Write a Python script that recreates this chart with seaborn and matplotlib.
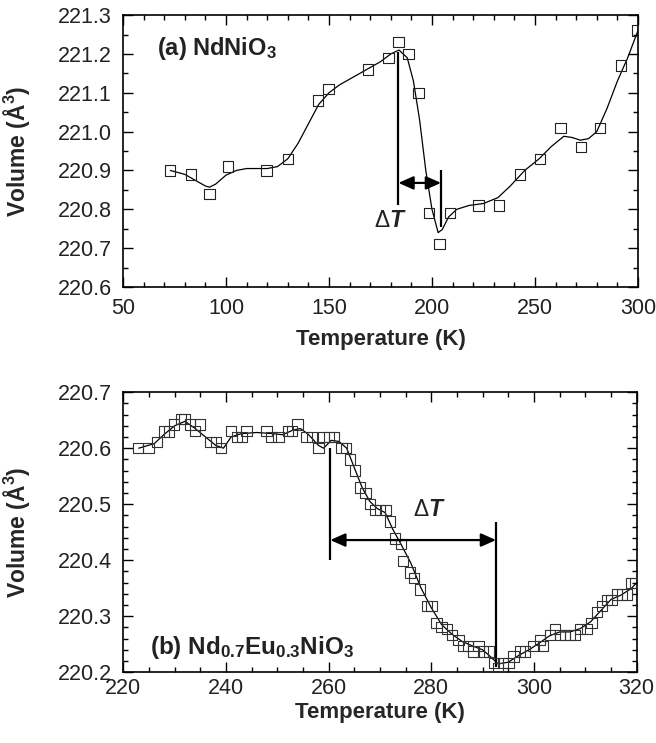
import matplotlib
matplotlib.use('Agg')

import matplotlib.pyplot as plt
import pandas as pd
import seaborn as sns
from matplotlib.ticker import MultipleLocator, FormatStrFormatter

# (a) NdNiO3 : measured points
temp_a = [72.8, 83.0, 92.0, 101.0, 119.6, 130.0, 144.6, 149.8, 168.9, 178.9, 183.7, 188.6,
          193.5, 198.4, 203.6, 208.6, 222.6, 232.7, 242.7, 252.5, 262.4, 272.5, 281.6, 291.6, 299.7]
vol_a = [220.90, 220.89, 220.84, 220.91, 220.90, 220.93, 221.08, 221.11, 221.16, 221.19, 221.23, 221.20,
         221.10, 220.79, 220.71, 220.79, 220.81, 220.81, 220.89, 220.93, 221.01, 220.96, 221.01, 221.17, 221.26]

# (a) smooth guide line
fit_temp_a = [73, 80, 85, 90, 92, 95, 100, 105, 110, 120, 125, 130, 135, 140, 145, 150, 155, 160,
              165, 170, 175, 180, 184, 188, 191, 194, 197, 200, 203, 205, 208, 212, 218, 225, 232,
              238, 245, 252, 258, 264, 268, 272, 276, 280, 285, 290, 295, 300]
fit_vol_a = [220.900, 220.890, 220.875, 220.860, 220.857, 220.865, 220.888, 220.900, 220.905, 220.905,
             220.910, 220.930, 220.970, 221.020, 221.070, 221.100, 221.120, 221.135, 221.150, 221.165,
             221.180, 221.200, 221.210, 221.190, 221.130, 221.030, 220.900, 220.800, 220.740, 220.748,
             220.780, 220.800, 220.810, 220.815, 220.830, 220.860, 220.900, 220.930, 220.962, 220.988,
             220.985, 220.978, 220.982, 221.000, 221.060, 221.130, 221.190, 221.260]

# (b) Nd0.7Eu0.3NiO3 : measured points
temp_b = [222.8, 224.9, 226.5, 227.9, 228.9, 229.9, 231.2, 231.9, 233.0, 234.0, 234.9, 237.0, 238.0,
          239.0, 241.0, 242.1, 243.1, 244.0, 247.9, 248.8, 250.2, 252.1, 252.8, 253.9, 255.7, 256.8,
          258.0, 259.0, 260.0, 261.0, 262.5, 263.4, 264.2, 265.1, 266.1, 267.2, 268.0, 269.0, 270.0,
          271.1, 271.9, 272.9, 274.1, 274.5, 275.8, 276.6, 277.8, 279.2, 280.0, 281.0, 282.0, 283.0,
          284.0, 285.3, 286.2, 287.2, 288.2, 289.2, 290.1, 291.2, 292.2, 293.0, 294.0, 295.0, 296.0,
          297.3, 298.3, 299.9, 301.2, 301.8, 303.1, 304.1, 305.0, 306.0, 307.0, 308.0, 309.0, 310.3,
          311.2, 312.2, 313.2, 314.2, 315.1, 316.1, 317.1, 318.1, 319.0, 319.7]
vol_b = [220.600, 220.600, 220.611, 220.630, 220.630, 220.642, 220.652, 220.652, 220.642, 220.631,
         220.642, 220.611, 220.611, 220.600, 220.631, 220.620, 220.620, 220.631, 220.631, 220.620,
         220.620, 220.631, 220.631, 220.642, 220.620, 220.620, 220.600, 220.620, 220.620, 220.620,
         220.600, 220.600, 220.580, 220.560, 220.530, 220.520, 220.500, 220.490, 220.490, 220.490,
         220.469, 220.439, 220.429, 220.398, 220.378, 220.368, 220.348, 220.318, 220.318, 220.288,
         220.281, 220.277, 220.267, 220.258, 220.247, 220.247, 220.237, 220.247, 220.237, 220.237,
         220.217, 220.207, 220.217, 220.217, 220.228, 220.237, 220.237, 220.247, 220.258, 220.247,
         220.267, 220.277, 220.267, 220.267, 220.267, 220.267, 220.277, 220.277, 220.288, 220.308,
         220.318, 220.329, 220.329, 220.339, 220.339, 220.339, 220.359, 220.359]

# (b) smooth guide line
fit_temp_b = [223, 226, 228, 230, 232, 234, 236, 238, 239.5, 241, 243, 246, 249, 251, 253, 254.5,
              256, 258, 259, 260.5, 262, 263.5, 265, 266.5, 268, 269.5, 271, 272.5, 274, 276, 278,
              280, 282, 284, 286, 288, 290, 291.5, 293, 295, 297, 299, 301, 303, 305, 307, 309,
              311, 313, 315, 317, 319, 320]
fit_vol_b = [220.600, 220.608, 220.625, 220.640, 220.648, 220.635, 220.620, 220.605, 220.600, 220.620,
             220.626, 220.628, 220.626, 220.624, 220.632, 220.635, 220.625, 220.605, 220.600, 220.614,
             220.612, 220.600, 220.565, 220.530, 220.505, 220.492, 220.485, 220.455, 220.430, 220.395,
             220.350, 220.315, 220.285, 220.268, 220.255, 220.247, 220.240, 220.228, 220.215, 220.218,
             220.230, 220.240, 220.252, 220.265, 220.272, 220.272, 220.278, 220.290, 220.310, 220.330,
             220.338, 220.350, 220.360]

# delta T markers
dt_a = (183.7, 204.4)
dt_b = (260.3, 292.6)

sns.set_style('ticks')
plt.rcParams['font.family'] = ['Liberation Sans', 'DejaVu Sans']
plt.rcParams.update({
    'mathtext.fontset': 'custom',
    'mathtext.rm': 'Liberation Sans',
    'mathtext.it': 'Liberation Sans:italic',
    'mathtext.bf': 'Liberation Sans:bold',
    'mathtext.bfit': 'Liberation Sans:italic:bold',
    'axes.edgecolor': 'black',
    'axes.linewidth': 1.2,
    'text.color': '#222222',
})


def style_axes(ax, xmaj, xmin, ymaj, ymin, xpad):
    ax.xaxis.set_major_locator(MultipleLocator(xmaj))
    ax.xaxis.set_minor_locator(MultipleLocator(xmin))
    ax.yaxis.set_major_locator(MultipleLocator(ymaj))
    ax.yaxis.set_minor_locator(MultipleLocator(ymin))
    ax.yaxis.set_major_formatter(FormatStrFormatter('%.1f'))
    ax.tick_params(which='both', direction='in', top=True, right=True,
                   colors='black', labelcolor='#222222', width=1.0)
    ax.tick_params(which='major', length=7, labelsize=15.5)
    ax.tick_params(which='minor', length=3.5)
    ax.tick_params(axis='x', which='major', pad=xpad)
    ax.tick_params(axis='y', which='major', pad=8)
    for s in ax.spines.values():
        s.set_visible(True)


def arrow(ax, x0, x1, y):
    ax.annotate('', xy=(x1, y), xytext=(x0, y),
                arrowprops=dict(arrowstyle='<|-|>,head_length=0.45,head_width=0.2',
                                mutation_scale=20, lw=1.6, color='black',
                                shrinkA=0, shrinkB=0))


fig = plt.figure(figsize=(6.56, 7.43), dpi=100)
ax_a = fig.add_axes([0.1875, 0.6137, 0.785, 0.366])
ax_b = fig.add_axes([0.188, 0.0952, 0.7826, 0.377])

# ---- panel (a)
sns.lineplot(x=fit_temp_a, y=fit_vol_a, ax=ax_a, color='black', lw=0.9, sort=False, estimator=None)
sns.scatterplot(x=temp_a, y=vol_a, ax=ax_a, marker='s', s=55, facecolors='none',
                edgecolors='#222222', linewidths=0.8, zorder=3)
ax_a.set_xlim(50, 300)
ax_a.set_ylim(220.6, 221.3)
style_axes(ax_a, 50, 10, 0.1, 0.05, 8)
ax_a.vlines(dt_a[0], 220.81, 221.205, color='black', lw=1.6)
ax_a.vlines(dt_a[1], 220.755, 220.90, color='black', lw=1.6)
arrow(ax_a, dt_a[0], dt_a[1], 220.868)
ax_a.text(180, 220.77, 'Δ$\\mathbfit{T}$', fontsize=16.5, ha='center', va='center')
ax_a.text(66.5, 221.215, '(a) NdNiO$_\\mathbf{3}$', fontsize=17, fontweight='bold',
          ha='left', va='center')
ax_a.set_xlabel('Temperature (K)', fontsize=16, fontweight='bold')
ax_a.set_ylabel('Volume (Å$^\\mathbf{3}$)', fontsize=16.5, fontweight='bold')
ax_a.xaxis.set_label_coords(0.5, -0.155)
ax_a.yaxis.set_label_coords(-0.177, 0.5)

# ---- panel (b)
sns.lineplot(x=fit_temp_b, y=fit_vol_b, ax=ax_b, color='black', lw=0.9, sort=False, estimator=None)
sns.scatterplot(x=temp_b, y=vol_b, ax=ax_b, marker='s', s=55, facecolors='none',
                edgecolors='#333333', linewidths=0.8, zorder=3)
ax_b.set_xlim(220, 320)
ax_b.set_ylim(220.2, 220.7)
style_axes(ax_b, 20, 5, 0.1, 0.02, 4)
ax_b.vlines(dt_b[0], 220.40, 220.60, color='black', lw=1.6)
ax_b.vlines(dt_b[1], 220.21, 220.469, color='black', lw=1.6)
arrow(ax_b, dt_b[0], dt_b[1], 220.436)
ax_b.text(279.7, 220.49, 'Δ$\\mathbfit{T}$', fontsize=16.5, ha='center', va='center')
ax_b.text(225.2, 220.245, '(b) Nd$_\\mathbf{0.7}$Eu$_\\mathbf{0.3}$NiO$_\\mathbf{3}$',
          fontsize=17.5, fontweight='bold', ha='left', va='center')
ax_b.set_xlabel('Temperature (K)', fontsize=16, fontweight='bold')
ax_b.set_ylabel('Volume (Å$^\\mathbf{3}$)', fontsize=16.5, fontweight='bold')
ax_b.xaxis.set_label_coords(0.5, -0.105)
ax_b.yaxis.set_label_coords(-0.178, 0.5)

fig.savefig('out.png', dpi=100)
